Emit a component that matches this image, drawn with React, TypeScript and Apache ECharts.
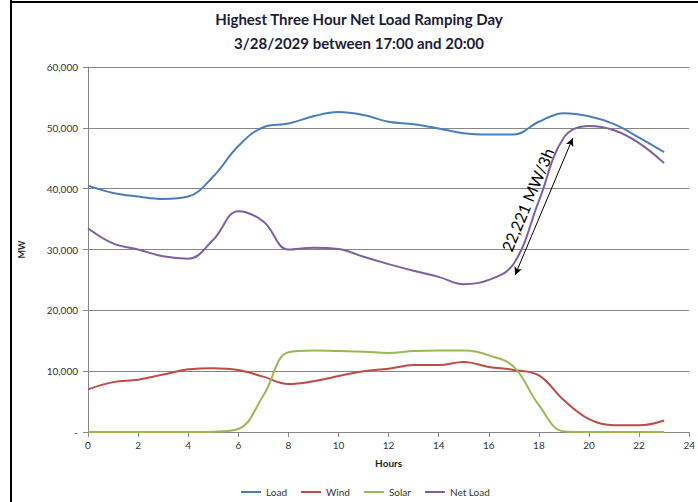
import React, { useEffect, useRef } from "react";
import * as echarts from "echarts";

const hours = [0, 1, 2, 3, 4, 5, 6, 7, 8, 9, 10, 11, 12, 13, 14, 15, 16, 17, 18, 19, 20, 21, 22, 23];
const loadMW = [40500, 39300, 38700, 38300, 38700, 42000, 47000, 50100, 50700, 51900, 52600, 52100, 51000, 50600, 49900, 49100, 48900, 48900, 51000, 52400, 51900, 50600, 48400, 46000];
const windMW = [7000, 8200, 8600, 9450, 10300, 10500, 10200, 9100, 7900, 8350, 9200, 10000, 10400, 11000, 11000, 11500, 10700, 10200, 9300, 5200, 2100, 1100, 1100, 1900];
const solarMW = [0, 0, 0, 0, 0, 50, 500, 6000, 13100, 13400, 13300, 13200, 13000, 13300, 13400, 13400, 12600, 10700, 4400, 100, 0, 0, 0, 0];
const netLoadMW = [33500, 31000, 30000, 28900, 28500, 31600, 36300, 34600, 30000, 30300, 30100, 28800, 27600, 26500, 25500, 24300, 25000, 27700, 38000, 48400, 50300, 49600, 47500, 44200];
const rampStart = [17.05, 25800];
const rampEnd = [19.35, 48300];
const rampLabel = "22,221 MW/3h";

const pairs = (vals: number[]) => hours.map((h, i) => [h, vals[i]]);

export default function App() {
  const ref = useRef<HTMLDivElement>(null);
  useEffect(() => {
    if (!ref.current) return;
    const chart = echarts.init(ref.current, null, { renderer: "svg" });
    const font = "Lato, 'Liberation Sans', sans-serif";
    const lineSeries = (name: string, vals: number[], color: string) => ({
      name,
      type: "line",
      data: pairs(vals),
      smooth: 0.4,
      showSymbol: false,
      symbol: "none",
      lineStyle: { color, width: 2 },
      itemStyle: { color },
    });
    chart.setOption({
      animation: false,
      backgroundColor: "#ffffff",
      textStyle: { fontFamily: font },
      title: {
        text: "Highest Three Hour Net Load Ramping Day\n3/28/2029 between 17:00 and 20:00",
        left: 354,
        textAlign: "center",
        top: 2,
        textStyle: { fontFamily: font, fontSize: 15, fontWeight: "bold", color: "#1c1c38", lineHeight: 24 },
      },
      grid: { left: 88, right: 4, top: 67, bottom: 70 },
      legend: {
        bottom: 0,
        left: 236,
        icon: "rect",
        itemWidth: 20,
        itemHeight: 2,
        itemGap: 14,
        textStyle: { fontFamily: font, fontSize: 10, color: "#333" },
        data: ["Load", "Wind", "Solar", "Net Load"],
      },
      xAxis: {
        type: "value",
        min: 0,
        max: 24,
        interval: 2,
        name: "Hours",
        nameLocation: "middle",
        nameGap: 26,
        nameTextStyle: { fontFamily: font, fontSize: 10, fontWeight: "bold", color: "#222" },
        axisLine: { lineStyle: { color: "#868686", width: 1 } },
        axisTick: { show: true, length: 5, lineStyle: { color: "#868686" } },
        axisLabel: { fontFamily: font, fontSize: 10, color: "#333", margin: 8 },
        splitLine: { show: false },
      },
      yAxis: {
        type: "value",
        min: 0,
        max: 60000,
        interval: 10000,
        name: "MW",
        nameLocation: "middle",
        nameGap: 62,
        nameRotate: 90,
        nameTextStyle: { fontFamily: font, fontSize: 9, fontWeight: "bold", color: "#222" },
        axisLine: { show: true, lineStyle: { color: "#868686", width: 1 } },
        axisTick: { show: true, length: 5, lineStyle: { color: "#868686" } },
        axisLabel: {
          fontFamily: font,
          fontSize: 10,
          color: "#333",
          margin: 10,
          formatter: (v: number) => (v === 0 ? "-" : v.toLocaleString("en-US")),
        },
        splitLine: { show: true, lineStyle: { color: "#868686", width: 1 } },
      },
      series: [
        lineSeries("Load", loadMW, "#4a7ebb"),
        lineSeries("Wind", windMW, "#be4b48"),
        lineSeries("Solar", solarMW, "#98b954"),
        {
          ...lineSeries("Net Load", netLoadMW, "#7d60a0"),
          markLine: {
            silent: true,
            symbol: ["arrow", "arrow"],
            symbolSize: [6, 8],
            lineStyle: { color: "#000", width: 1, type: "solid" },
            label: {
              show: true,
              formatter: rampLabel,
              position: "insideMiddleTop",
              distance: 10,
              color: "#000",
              fontFamily: font,
              fontSize: 16,
            },
            data: [[{ coord: rampStart }, { coord: rampEnd }]],
          },
        },
      ],
      graphic: [
        { type: "rect", shape: { x: 10, y: 0, width: 2, height: 502 }, style: { fill: "#000" } },
        { type: "rect", shape: { x: 10, y: 1, width: 688, height: 2 }, style: { fill: "#000" } },
      ],
    });
    return () => chart.dispose();
  }, []);
  return <div ref={ref} style={{ width: 698, height: 502, position: "absolute", left: 0, top: 0 }} />;
}
